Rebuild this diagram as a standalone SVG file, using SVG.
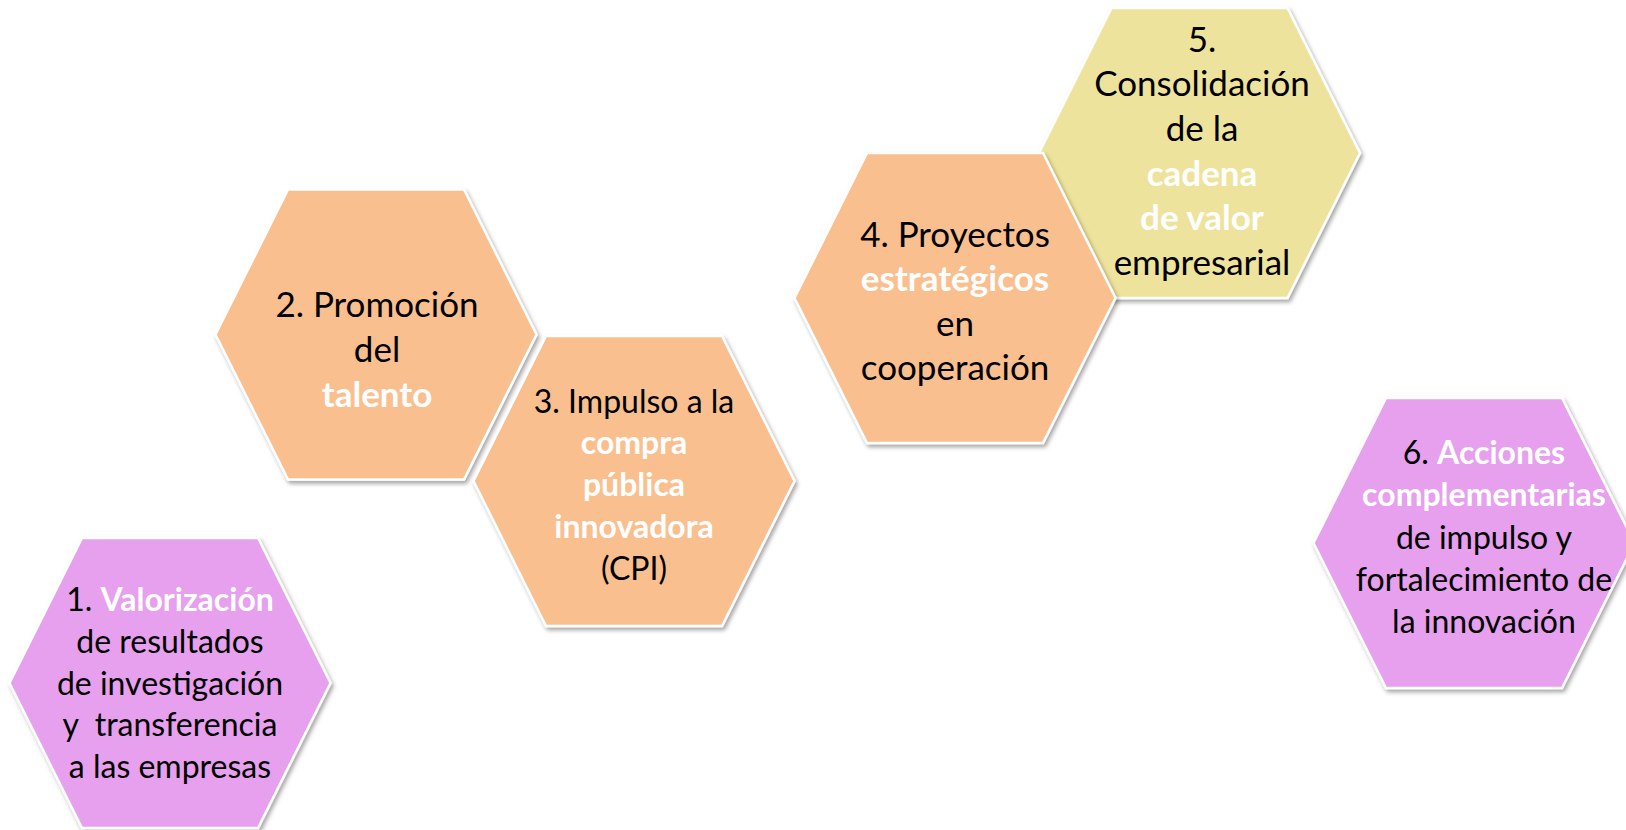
<svg xmlns="http://www.w3.org/2000/svg" xmlns:xlink="http://www.w3.org/1999/xlink" width="1626" height="830" viewBox="0 0 1626 830">
<style>
.hx{stroke:#ffffff;stroke-width:2.5;filter:url(#sh)}
.pink{fill:#E6A0ED}
.orange{fill:#F9BF8F}
.yellow{fill:#EEE39C}
text{font-family:Lato,"Open Sans",sans-serif;text-anchor:middle;fill:#000000}
.s{font-size:32px}
.l{font-size:35px}
.w{fill:#ffffff;font-weight:bold}
</style>
<defs>
<filter id="sh" x="-10%" y="-10%" width="125%" height="125%">
<feDropShadow dx="2" dy="3" stdDeviation="2.2" flood-color="#000000" flood-opacity="0.35"/>
</filter>
<polygon id="hex" points="-160.5,0 -88,-145 88,-145 160.5,0 88,145 -88,145"/>
</defs>
<rect width="1626" height="830" fill="#ffffff"/>
<g id="connectors"></g>
<g id="node1">
<use xlink:href="#hex" x="170" y="683" class="hx pink"/>
<text class="s" x="170" y="611">1. <tspan class="w">Valorización</tspan></text>
<text class="s" x="170" y="653">de resultados</text>
<text class="s" x="170" y="695">de investigación</text>
<text class="s" x="170" y="736" xml:space="preserve">y  transferencia</text>
<text class="s" x="170" y="778">a las empresas</text>
</g>
<g id="node2">
<use xlink:href="#hex" x="376" y="334.5" class="hx orange"/>
<text class="l" x="377" y="317">2. Promoción</text>
<text class="l" x="377" y="362">del</text>
<text class="l w" x="377" y="407">talento</text>
</g>
<g id="node3">
<use xlink:href="#hex" x="634" y="481" class="hx orange"/>
<text class="s" x="634" y="413">3. Impulso a la</text>
<text class="s w" x="634" y="454">compra</text>
<text class="s w" x="634" y="496">pública</text>
<text class="s w" x="634" y="538">innovadora</text>
<text class="s" x="634" y="580">(CPI)</text>
</g>
<g id="node5">
<use xlink:href="#hex" x="1199.5" y="153" class="hx yellow"/>
<text class="l" x="1202" y="52">5.</text>
<text class="l" x="1202" y="96">Consolidación</text>
<text class="l" x="1202" y="141">de la</text>
<text class="l w" x="1202" y="186">cadena</text>
<text class="l w" x="1202" y="230">de valor</text>
<text class="l" x="1202" y="275">empresarial</text>
</g>
<g id="node4">
<use xlink:href="#hex" x="955" y="298" class="hx orange"/>
<text class="l" x="955" y="247">4. Proyectos</text>
<text class="l w" x="955" y="291">estratégicos</text>
<text class="l" x="955" y="336">en</text>
<text class="l" x="955" y="380">cooperación</text>
</g>
<g id="node6">
<use xlink:href="#hex" x="1474" y="543" class="hx pink"/>
<text class="s" x="1484" y="464">6. <tspan class="w">Acciones</tspan></text>
<text class="s w" x="1484" y="506">complementarias</text>
<text class="s" x="1484" y="549">de impulso y</text>
<text class="s" x="1484" y="591">fortalecimiento de</text>
<text class="s" x="1484" y="633">la innovación</text>
</g>
</svg>
